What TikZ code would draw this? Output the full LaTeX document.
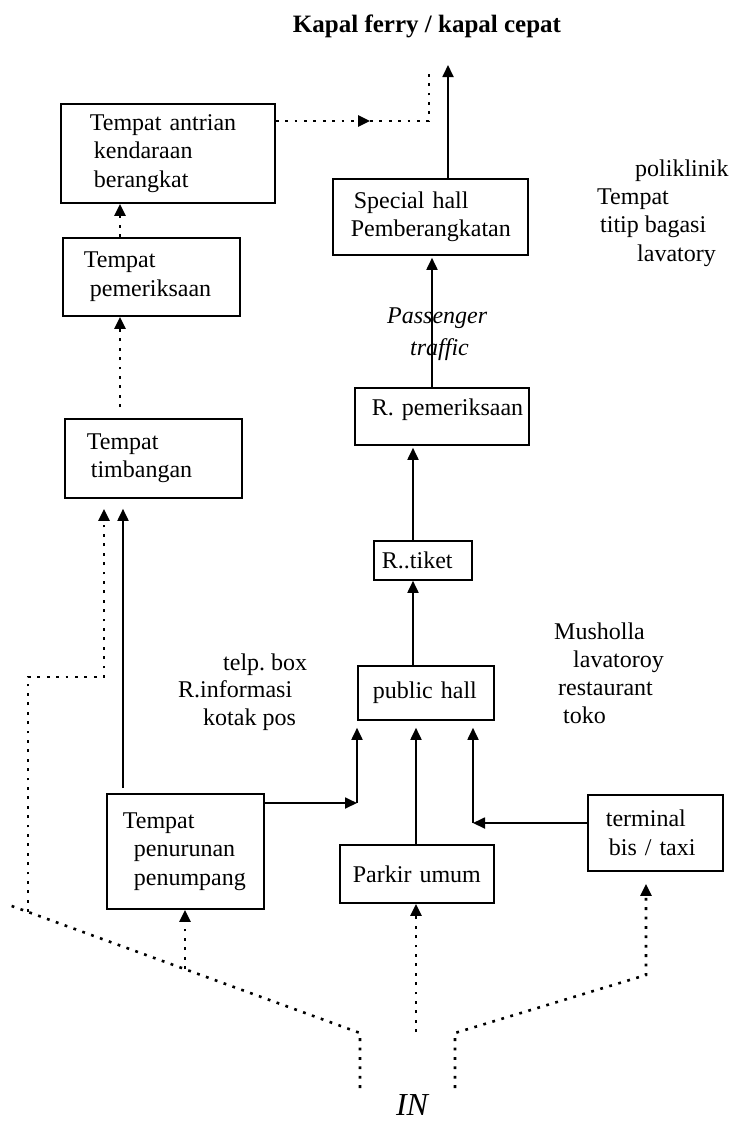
\documentclass[tikz,border=0pt]{standalone}
\usepackage{fontspec}
\setmainfont{Liberation Serif}
\usetikzlibrary{arrows.meta}
\begin{document}
\begin{tikzpicture}[x=1pt,y=-1pt,
  box/.style={draw, line width=1.8pt, rectangle, anchor=north west,
    inner xsep=1pt, inner ysep=0pt, align=left,
    font=\fontsize{24}{28.5}\selectfont},
  txt/.style={inner sep=0pt, align=left, anchor=west,
    font=\fontsize{24}{28.3}\selectfont},
  flow/.style={line width=1.8pt, -{Triangle[length=12pt,width=11pt]}},
  dots/.style={line width=2.6pt, dash pattern=on 2.8pt off 6.6pt},
  dotflow/.style={dots, -{Triangle[length=12pt,width=11pt]}},
]
\useasboundingbox (0,0) rectangle (731,1128);

% ---- boxes ----
\node[box, text width=212pt, minimum height=99pt] (antrian) at (60,103)
  {\hspace*{28pt}Tempat~antrian\\\hspace*{32pt}kendaraan\\\hspace*{32pt}berangkat};
\node[box, text width=193pt, minimum height=76pt] (special) at (332,178)
  {\hspace*{20pt}Special~hall\\\hspace*{17pt}Pemberangkatan};
\node[box, text width=175pt, minimum height=78pt] (pemer) at (62,237)
  {\hspace*{20pt}Tempat\\\hspace*{26pt}pemeriksaan};
\node[box, text width=175pt, minimum height=79pt] (timb) at (64,418)
  {\hspace*{21pt}Tempat\\\hspace*{25pt}timbangan};
\node[box, text width=172pt, minimum height=57pt, text depth=19pt] (rpem) at (354,387)
  {\hspace*{16pt}R.~pemeriksaan};
\node[box, text width=96pt, minimum height=39pt] (tiket) at (373,540)
  {\hspace*{7pt}R..tiket};
\node[box, text width=134pt, minimum height=54pt] (hall) at (357,665)
  {\hspace*{14pt}public~hall};
\node[box, text width=155pt, minimum height=115pt] (penur) at (106,793)
  {\hspace*{15pt}Tempat\\\hspace*{26pt}penurunan\\\hspace*{26pt}penumpang};
\node[box, text width=152pt, minimum height=58pt] (parkir) at (339,844)
  {\hspace*{12pt}Parkir~umum};
\node[box, text width=133pt, minimum height=76pt] (terminal) at (587,794)
  {\hspace*{17pt}terminal\\\hspace*{20pt}bis~/~taxi};

% ---- free texts ----
\node[font=\fontsize{25}{30}\selectfont\bfseries] (title) at (427,26) {Kapal ferry / kapal cepat};
\node[txt, font=\fontsize{24}{32}\selectfont\itshape] (traffic) at (387,334)
  {Passenger\\\hspace*{23pt}traffic};
\node[txt] (fac1) at (597,213)
  {\hspace*{38pt}poliklinik\\Tempat\\\hspace*{3pt}titip~bagasi\\\hspace*{40pt}lavatory};
\node[txt, font=\fontsize{24}{27.5}\selectfont] (fac2) at (178,692)
  {\hspace*{45pt}telp.~box\\R.informasi\\\hspace*{25pt}kotak~pos};
\node[txt, font=\fontsize{24}{28}\selectfont] (fac3) at (554,673)
  {Musholla\\\hspace*{19pt}lavatoroy\\\hspace*{4pt}restaurant\\\hspace*{9pt}toko};
\node[font=\fontsize{32}{36}\selectfont\itshape] (in) at (412,1105) {IN};

% ---- passenger route (solid) ----
\coordinate (ship) at (448,65);
\coordinate (c432) at (432,0);
\coordinate (c413) at (413,0);
\draw[flow] (special.north -| ship) -- (ship);
\draw[flow, shorten >=2pt] (rpem.north -| c432) -- (special.south -| c432);
\draw[flow, shorten >=2pt] (tiket.north -| c413) -- (rpem.south -| c413);
\draw[flow] (hall.north -| c413) -- (tiket.south -| c413);

% ---- vehicle route (dotted) ----
\coordinate (c120) at (120,0);
\draw[dotflow] (pemer.north -| c120) -- (antrian.south -| c120);
\path (timb.north -| c120) ++(0,-11) coordinate (tv);
\draw[dotflow] (tv) -- (pemer.south -| c120);
\path (antrian.north east) ++(0,18) coordinate (qstart);
\coordinate (qmid) at (370,121);
\coordinate (qturn) at (429,121);
\coordinate (qtop) at (429,72);
\draw[dotflow] (qstart) -- (qmid);
\draw[dots] (qmid) -- (qturn) -- (qtop);

% ---- drop-off to weighing (solid) ----
\coordinate (c123) at (123,0);
\path (penur.north -| c123) ++(0,-5) coordinate (pu);
\draw[flow, shorten >=10pt] (pu) -- (timb.south -| c123);

% ---- feeders into the public hall ----
\coordinate (pc) at (357,803);
\draw[flow] (penur.east |- pc) -- (pc);
\draw[flow, shorten >=7pt] (pc) -- (hall.south -| pc);
\coordinate (c416) at (416,0);
\draw[flow, shorten >=7pt] (parkir.north -| c416) -- (hall.south -| c416);
\coordinate (tc) at (473,823);
\draw[flow] (terminal.west |- tc) -- (tc);
\draw[flow, shorten >=7pt] (tc) -- (hall.south -| tc);

% ---- entrance branches (dotted) ----
\coordinate (dL) at (9,905);
\coordinate (jL) at (360,1033);
\coordinate (inL) at (360,1088);
\draw[dots] (inL) -- (jL) -- (dL);
\coordinate (c104) at (104,0);
\coordinate (kL) at (28,912);
\coordinate (bL) at (28,677);
\coordinate (eL) at (104,677);
\draw[dotflow, shorten >=10pt] (kL) -- (bL) -- (eL) -- (timb.south -| c104);
\coordinate (kP) at (185,969);
\draw[dotflow] (kP) -- (penur.south -| kP);
\coordinate (kM) at (416,1032);
\draw[dotflow] (kM) -- (parkir.south -| kM);
\coordinate (inR) at (455,1088);
\coordinate (jR) at (455,1033);
\coordinate (kR) at (646,975);
\draw[dotflow, shorten >=12pt] (inR) -- (jR) -- (kR) -- (terminal.south -| kR);
\end{tikzpicture}
\end{document}
